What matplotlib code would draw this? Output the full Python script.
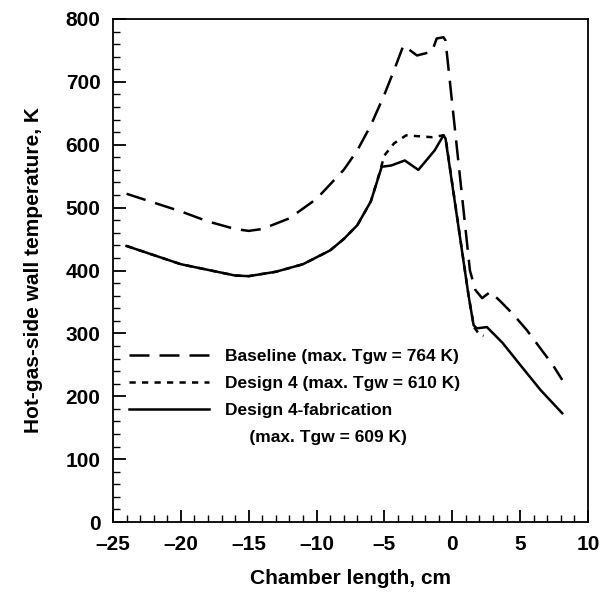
import matplotlib.pyplot as plt
from matplotlib.lines import Line2D
from matplotlib.ticker import MultipleLocator

plt.rcParams['font.family'] = ['Liberation Sans', 'DejaVu Sans']
plt.rcParams['font.weight'] = 'bold'

# chamber length, cm / hot-gas-side wall temperature, K
base_x = [-24, -22, -20, -18, -16, -15, -14, -12, -10, -8, -7, -6, -5, -4.3, -3.6,
          -2.6, -1.5, -1.15, -0.65, -0.5, 1.3, 1.7, 2.2, 2.8, 3.5, 4.5, 5.5, 6.6, 7.4, 8.1]
base_y = [522, 508, 494, 478, 466, 463, 466, 483, 514, 560, 591, 631, 680, 718, 758,
          742, 748, 769, 771, 766, 400, 369, 356, 366, 352, 330, 305, 273, 250, 226]

d4_x = [-24, -20, -16, -15, -13, -11, -9, -8, -7, -6, -5.5, -5, -4.3, -3.4, -1.5,
        -0.65, -0.5, 1.2, 1.6, 2.0, 2.3]
d4_y = [439, 410, 392, 391, 398, 410, 432, 450, 472, 510, 545, 583, 602, 615, 612,
        615, 612, 360, 310, 298, 296]

fab_x = [-24, -20, -16, -15, -13, -11, -9, -8, -7, -6, -5.2, -4.5, -3.5, -2.5, -1.3,
         -0.65, -0.5, 1.2, 1.57, 1.8, 2.55, 3.7, 5, 6.5, 8.1]
fab_y = [439, 410, 392, 391, 398, 410, 432, 450, 472, 510, 565, 567, 575, 560, 591,
         615, 610, 360, 313, 308, 310, 285, 250, 210, 173]

fig = plt.figure(figsize=(6.05, 5.97), dpi=100)
ax = fig.add_axes([113 / 605, 1 - 522 / 597, 475 / 605, 503 / 597])

ax.plot(base_x, base_y, color='black', lw=1.8, dashes=(8, 4))
ax.plot(d4_x, d4_y, color='black', lw=1.8, dashes=(2.5, 2.5))
ax.plot(fab_x, fab_y, color='black', lw=1.8)

ax.set_xlim(-25, 10)
ax.set_ylim(0, 800)
ax.xaxis.set_major_locator(MultipleLocator(5))
ax.xaxis.set_minor_locator(MultipleLocator(1))
ax.yaxis.set_major_locator(MultipleLocator(100))
ax.yaxis.set_minor_locator(MultipleLocator(20))
ax.tick_params(which='both', direction='in', top=False, right=False, labelsize=15)
ax.tick_params(which='major', length=9, width=1.3, pad=9)
ax.tick_params(which='minor', length=5, width=1)
ax.set_xticks(range(-25, 11, 5))
ax.set_xticklabels([str(v).replace('-', '\u2013') for v in range(-25, 11, 5)])
for s in ax.spines.values():
    s.set_linewidth(1.3)

ax.set_xlabel('Chamber length, cm', fontsize=15, fontweight='bold', labelpad=11)
ax.set_ylabel('Hot-gas-side wall temperature, K', fontsize=15, fontweight='bold', labelpad=16)

handles = [Line2D([], [], color='black', lw=1.8, dashes=(8, 4)),
           Line2D([], [], color='black', lw=1.8, dashes=(2.5, 2.5)),
           Line2D([], [], color='black', lw=1.8),
           Line2D([], [], color='none')]
labels = ['Baseline (max. Tgw = 764 K)', 'Design 4 (max. Tgw = 610 K)',
          'Design 4-fabrication', '     (max. Tgw = 609 K)']
ax.legend(handles, labels, loc='lower left', bbox_to_anchor=(0.02, 0.14),
          frameon=False, fontsize=12.5, handlelength=4.6, handletextpad=0.9,
          labelspacing=0.68, borderaxespad=0)

fig.savefig('out.png', dpi=100)
